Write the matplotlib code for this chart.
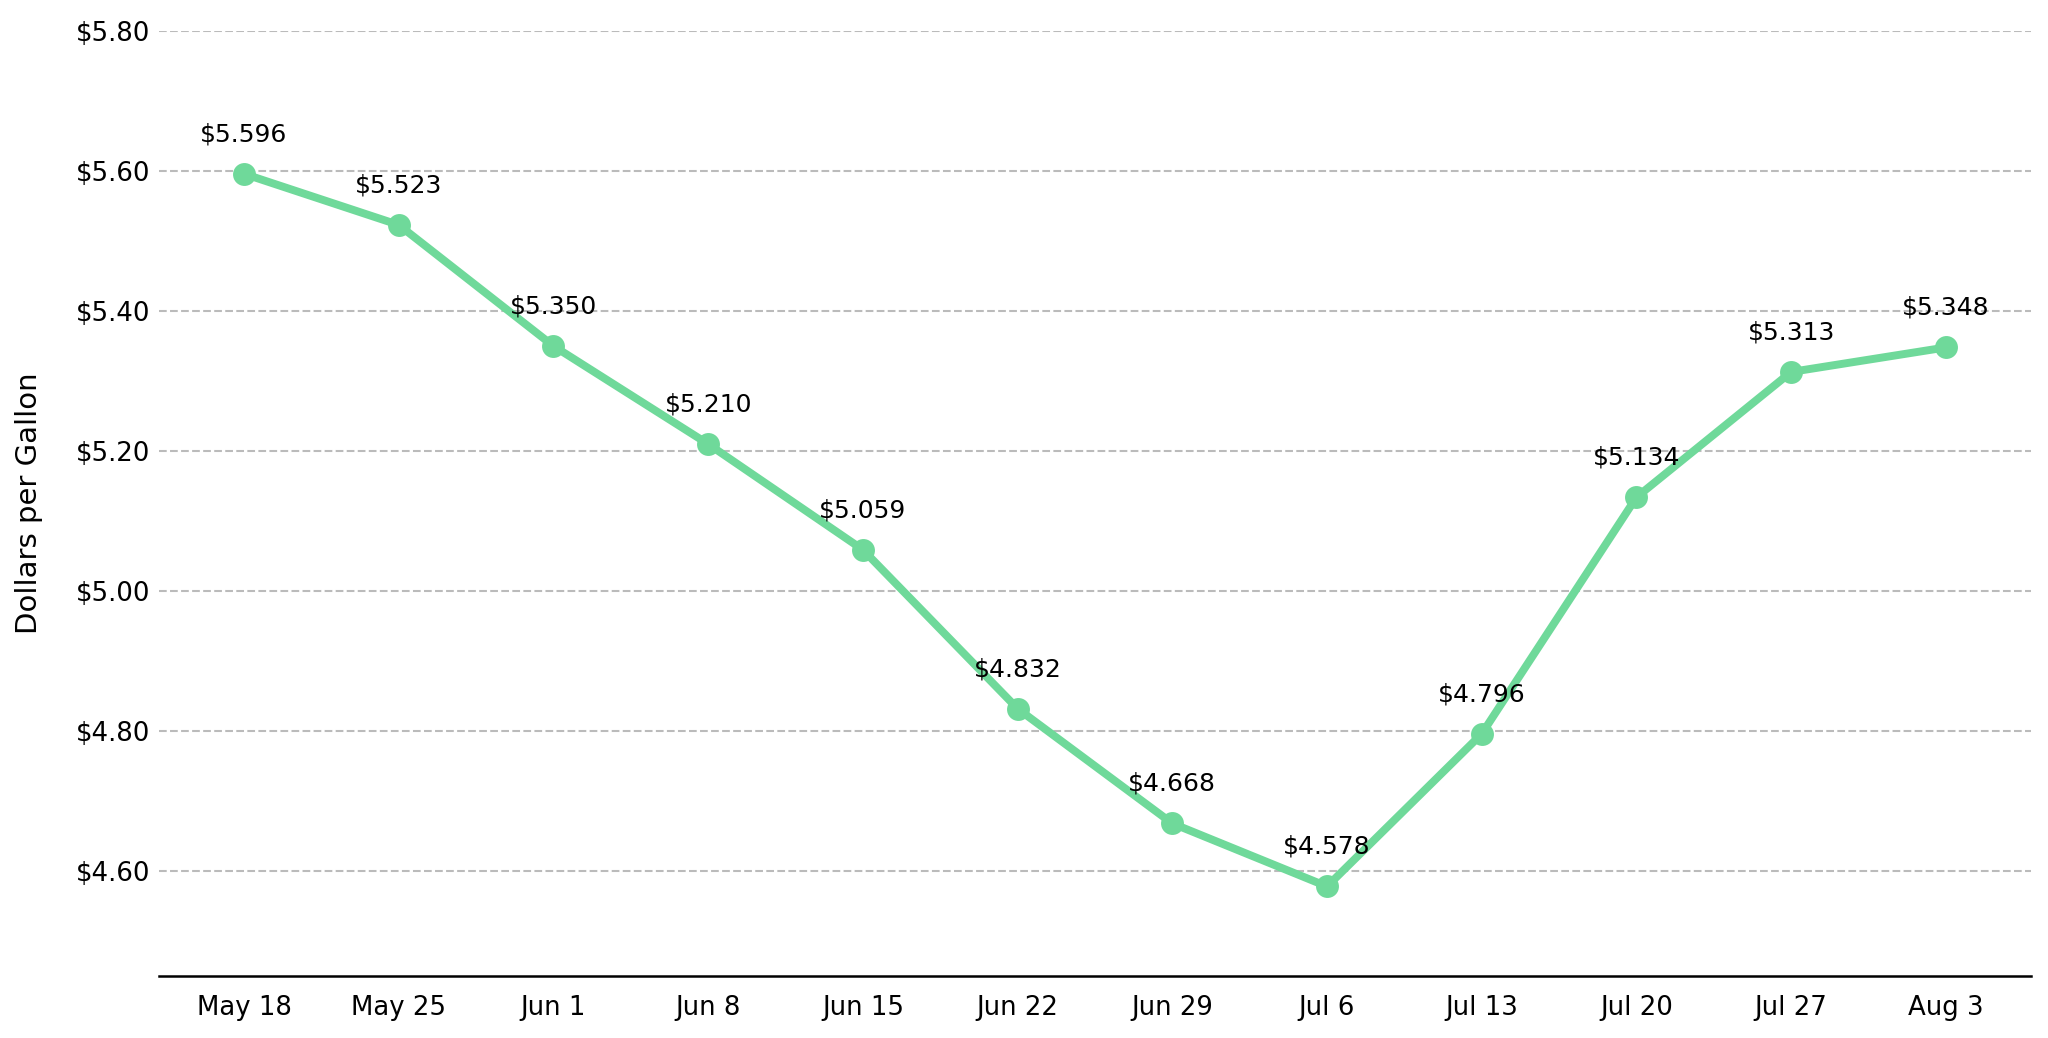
import matplotlib
matplotlib.use("Agg")
import matplotlib.pyplot as plt
from matplotlib.ticker import FuncFormatter

weeks = ["May 18", "May 25", "Jun 1", "Jun 8", "Jun 15", "Jun 22",
         "Jun 29", "Jul 6", "Jul 13", "Jul 20", "Jul 27", "Aug 3"]
prices = [5.596, 5.523, 5.350, 5.210, 5.059, 4.832,
          4.668, 4.578, 4.796, 5.134, 5.313, 5.348]
yticks = [4.60, 4.80, 5.00, 5.20, 5.40, 5.60, 5.80]

color = "#6FD99A"

fig = plt.figure(figsize=(2048/150, 1038/150), dpi=150)
ax = fig.add_axes([0.0776, 0.0597, 0.9141, 0.9104])

x = list(range(len(weeks)))
ax.plot(x, prices, color=color, lw=3.8, marker="o", markersize=10, zorder=3)

for xi, p in zip(x, prices):
    ax.annotate(f"${p:.3f}", (xi, p), xytext=(0, 19), textcoords="offset points",
                ha="center", va="center", fontsize=12)

ax.set_xlim(-0.55, len(weeks) - 1 + 0.55)
ax.set_ylim(4.45, 5.80)
ax.set_xticks(x)
ax.set_xticklabels(weeks, fontsize=12.5)
ax.set_yticks(yticks)
ax.yaxis.set_major_formatter(FuncFormatter(lambda v, _: f"${v:.2f}"))
ax.tick_params(axis="y", labelsize=12.5, length=0, pad=4)
ax.tick_params(axis="x", length=0, pad=9)
ax.set_ylabel("Dollars per Gallon", fontsize=14, labelpad=16)

ax.grid(axis="y", linestyle="--", color="#bbbbbb", lw=1)
ax.set_axisbelow(True)
for s in ["top", "right", "left"]:
    ax.spines[s].set_visible(False)
ax.spines["bottom"].set_color("black")
ax.spines["bottom"].set_linewidth(1.2)

fig.savefig("out.png", dpi=150)
